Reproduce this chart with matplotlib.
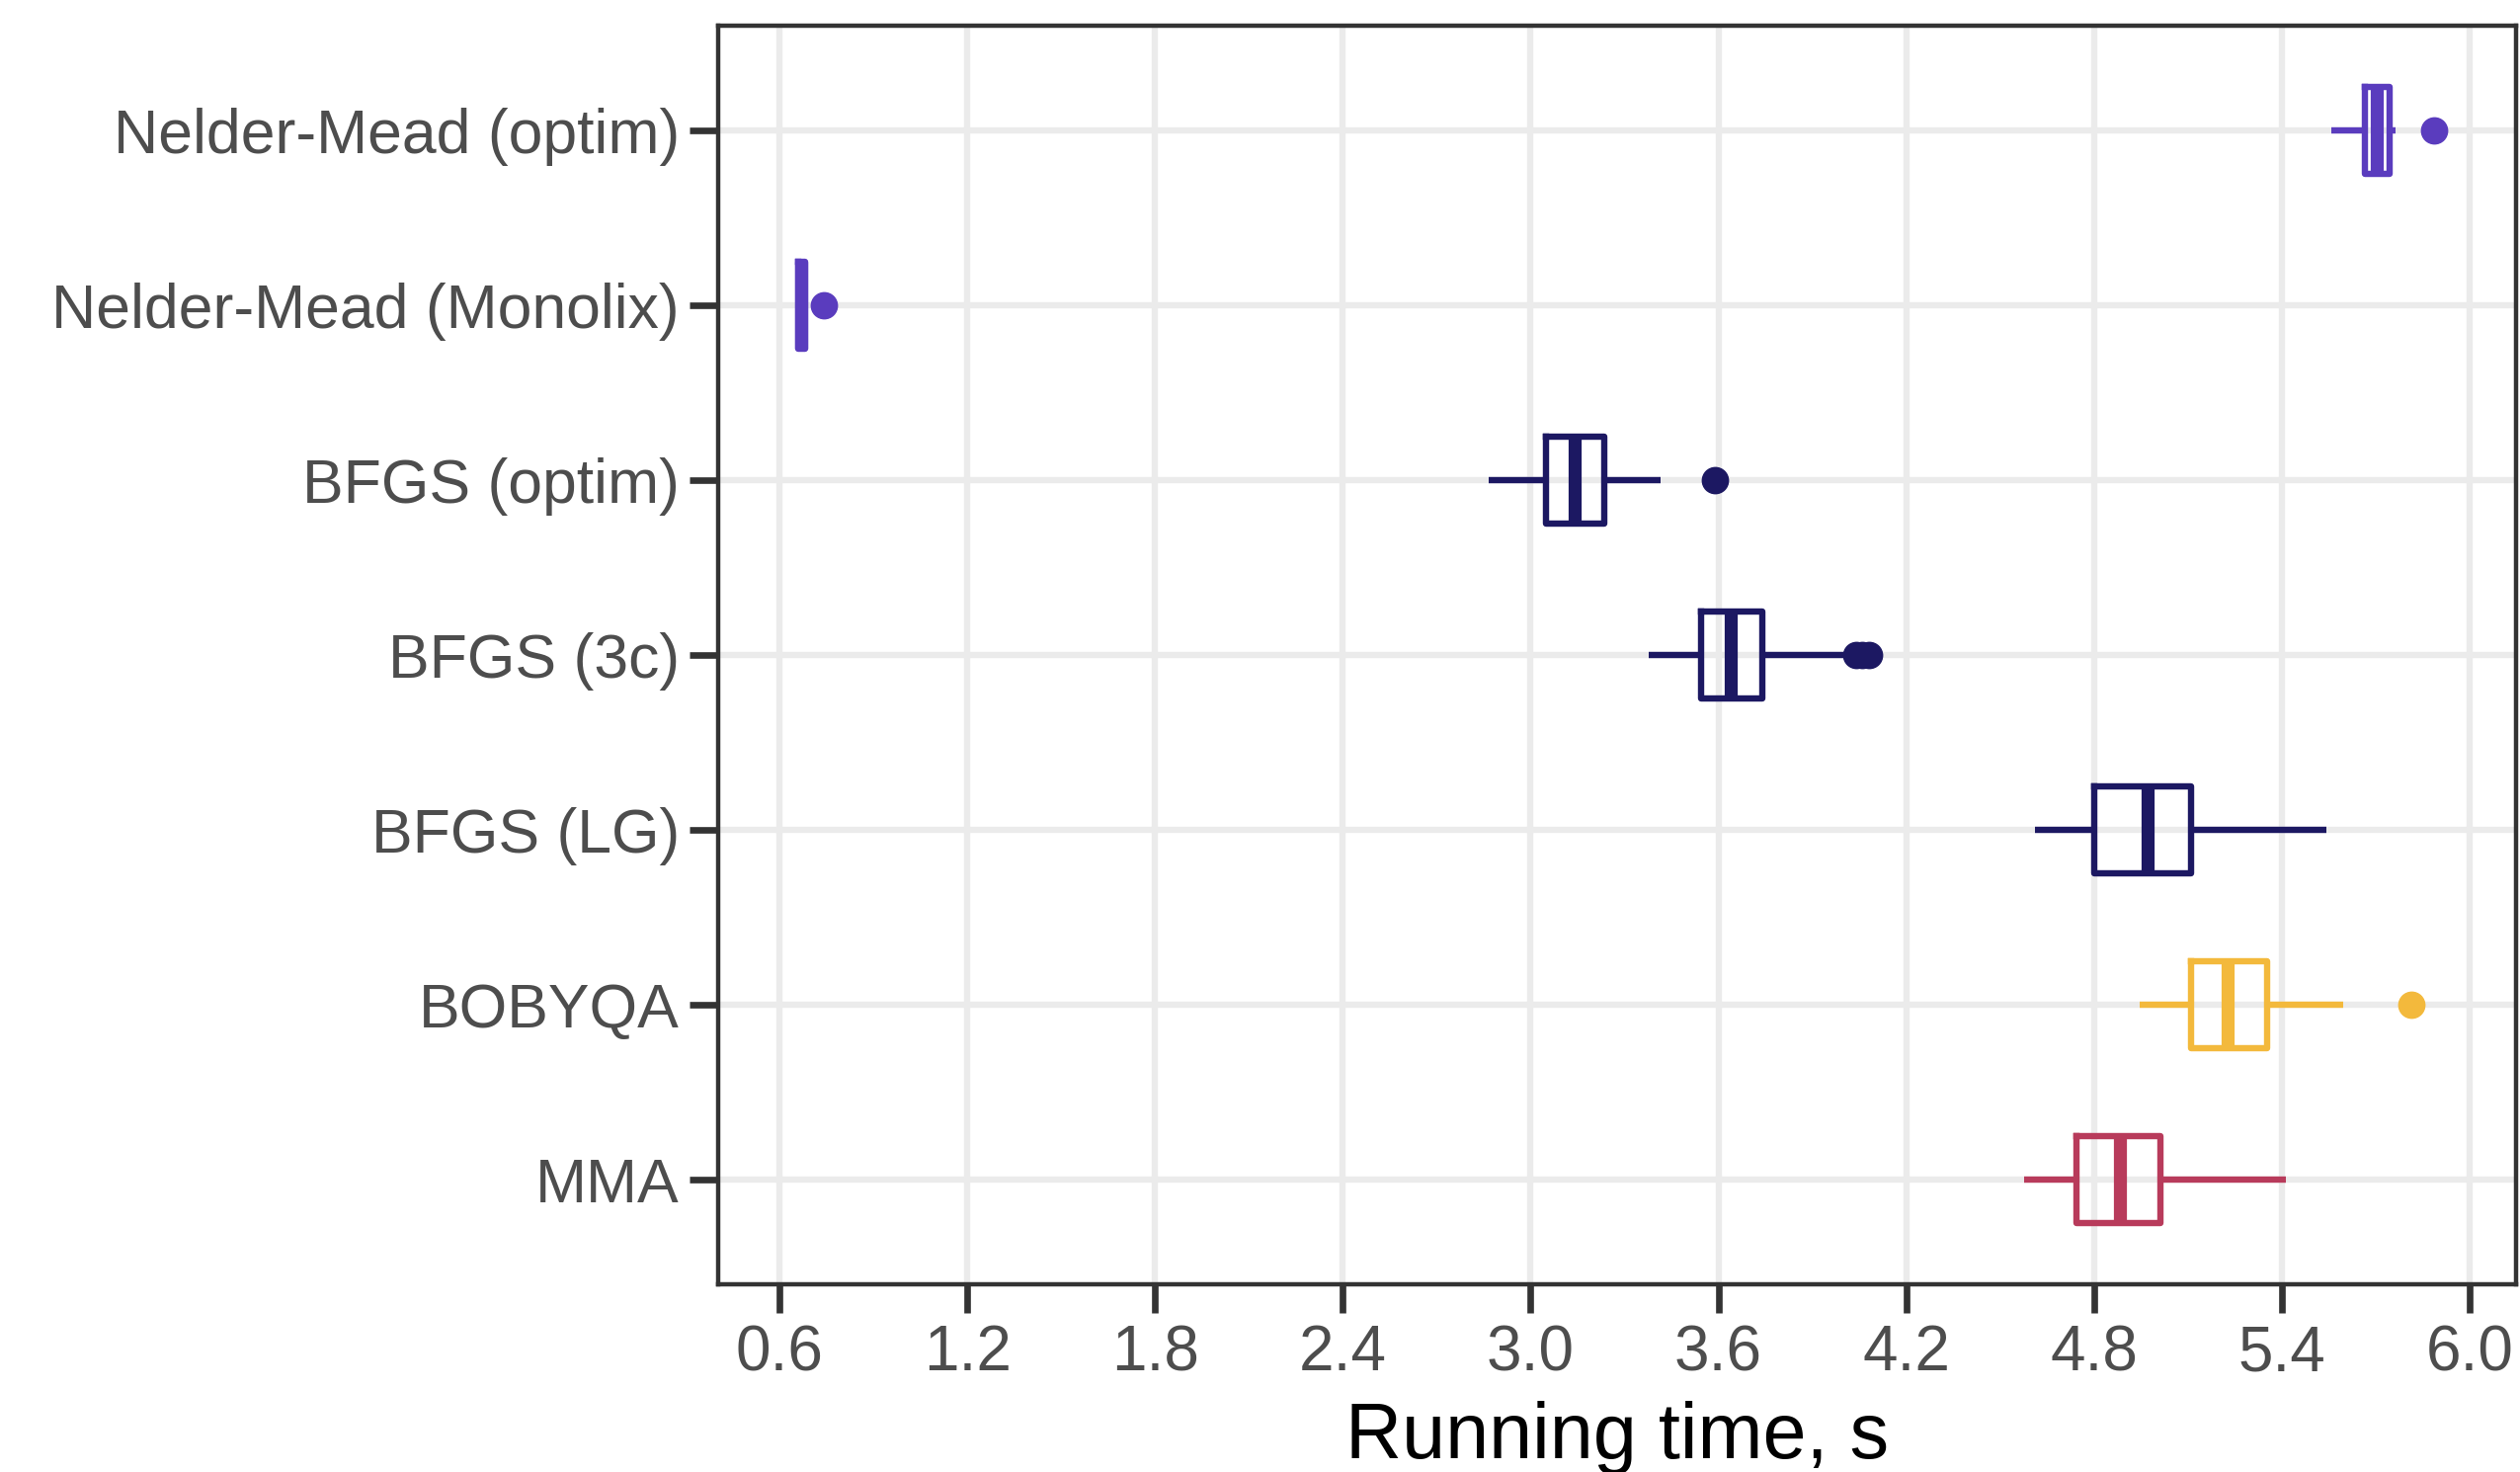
import matplotlib
matplotlib.use("Agg")
import matplotlib.pyplot as plt

plt.rcParams['font.family'] = ['Liberation Sans', 'DejaVu Sans']

# categories, top to bottom
methods = ['Nelder-Mead (optim)', 'Nelder-Mead (Monolix)', 'BFGS (optim)',
           'BFGS (3c)', 'BFGS (LG)', 'BOBYQA', 'MMA']
colors = ['#5a3cbe', '#5a3cbe', '#1c1862', '#1c1862', '#1c1862', '#f3b93c', '#b83b5b']

# box statistics (seconds)
whislo = [5.56, 0.652, 2.865, 3.376, 4.613, 4.947, 4.576]
q1 = [5.666, 0.658, 3.050, 3.544, 4.801, 5.109, 4.745]
med = [5.704, 0.668, 3.141, 3.638, 4.973, 5.228, 4.884]
q3 = [5.745, 0.682, 3.234, 3.742, 5.109, 5.354, 5.013]
whishi = [5.764, 0.686, 3.416, 4.002, 5.542, 5.596, 5.412]
outliers = [[5.887], [0.74], [3.589], [4.04, 4.06, 4.08], [], [5.813], []]

x_ticks = [0.6, 1.2, 1.8, 2.4, 3.0, 3.6, 4.2, 4.8, 5.4, 6.0]

stats = []
for i in range(len(methods)):
    stats.append({'whislo': whislo[i], 'q1': q1[i], 'med': med[i], 'q3': q3[i],
                  'whishi': whishi[i], 'fliers': outliers[i], 'label': methods[i]})

fig = plt.figure(figsize=(25.51, 14.90), dpi=100)
ax = fig.add_axes([0.2849, 0.1275, 0.9983 - 0.2849, 0.9826 - 0.1275])

ypos = list(range(len(methods)))
ax.set_xlim(0.403, 6.148)
ax.set_ylim(len(methods) - 0.4, -0.6)

ax.set_axisbelow(True)
ax.grid(True, color='#ebebeb', linewidth=4.6)

bp = ax.bxp(stats, positions=ypos, widths=0.5, orientation='horizontal',
            showcaps=False, patch_artist=False)

lw = 4.6
for i, c in enumerate(colors):
    bp['boxes'][i].set_color(c)
    bp['boxes'][i].set_linewidth(lw)
    bp['boxes'][i].set_solid_joinstyle('round')
    bp['medians'][i].set_color(c)
    bp['medians'][i].set_linewidth(9.5)
    bp['medians'][i].set_solid_capstyle('butt')
    for w in bp['whiskers'][2 * i:2 * i + 2]:
        w.set_color(c)
        w.set_linewidth(lw)
        w.set_solid_capstyle('butt')
    fl = bp['fliers'][i]
    fl.set_marker('o')
    fl.set_markerfacecolor(c)
    fl.set_markeredgecolor(c)
    fl.set_markersize(19)

ax.set_xticks(x_ticks)
ax.set_xticklabels(['%.1f' % t for t in x_ticks])
ax.set_yticks(ypos)
ax.set_yticklabels(methods)

ax.tick_params(axis='both', colors='#333333', width=4.8, length=21,
               labelcolor='#4d4d4d')
ax.tick_params(axis='y', pad=7, labelsize=45)
ax.tick_params(axis='x', pad=8, labelsize=46)

for s in ax.spines.values():
    s.set_color('#333333')
    s.set_linewidth(3.2)

ax.set_xlabel('Running time, s', fontsize=57, color='black')
ax.xaxis.label.set_verticalalignment('baseline')
ax.xaxis.set_label_coords(0.5, -0.138)

fig.savefig('out.png', dpi=100)
